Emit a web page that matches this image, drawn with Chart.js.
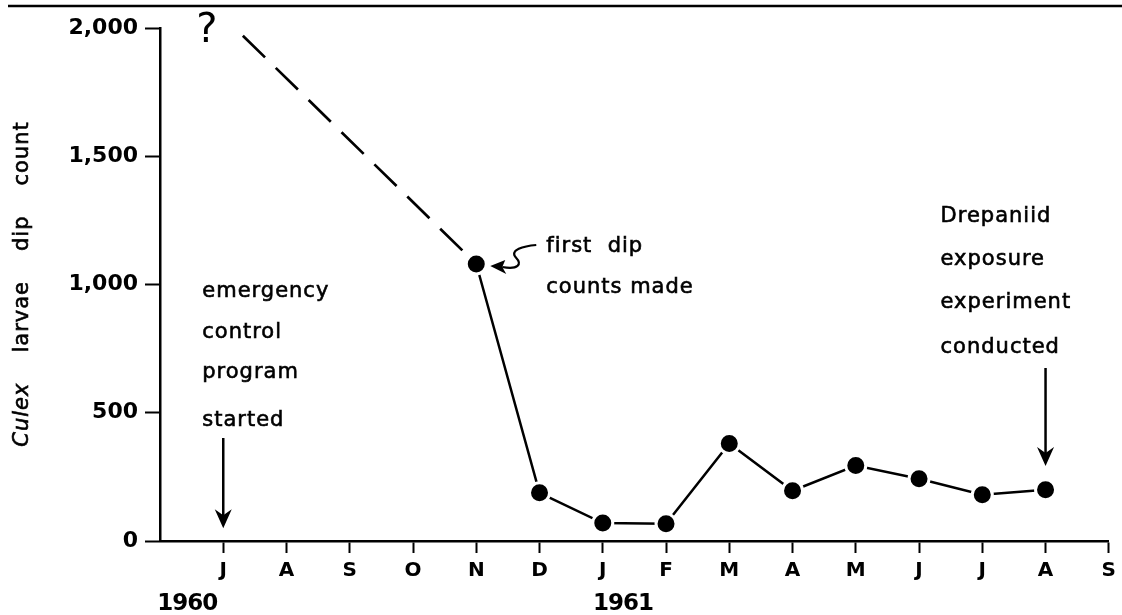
<!DOCTYPE html>
<html>
<head>
<meta charset="utf-8">
<script src="https://cdn.jsdelivr.net/npm/chart.js@4"></script>
<style>
  html, body { margin: 0; padding: 0; background: #fff; }
  #wrap { width: 1122px; height: 615px; position: relative; }
</style>
</head>
<body>
<div id="wrap"><canvas id="c" width="1122" height="615"></canvas></div>
<script>
// ---- data ----
const monthLabels = ['', 'J', 'A', 'S', 'O', 'N', 'D', 'J', 'F', 'M', 'A', 'M', 'J', 'J', 'A', 'S'];
const countX = [5, 6, 7, 8, 9, 10, 11, 12, 13, 14];
const countY = [1080, 188, 70, 67, 380, 196, 294, 243, 180, 200];
const guessX = [1.31, 5];
const guessY = [1970, 1080];
const yTicks = [0, 500, 1000, 1500, 2000];
const yearLabels = [{ x: 0.43, text: '1960' }, { x: 7.32, text: '1961' }];

const FONT = '"DejaVu Sans", sans-serif';

const annot = {
  id: 'annot',
  afterDraw(chart) {
    const ctx = chart.ctx;
    const xs = chart.scales.x, ys = chart.scales.y;
    const px = v => xs.getPixelForValue(v);
    const py = v => ys.getPixelForValue(v);
    ctx.save();
    ctx.fillStyle = '#000';
    ctx.strokeStyle = '#000';

    // top rule
    ctx.lineWidth = 2.5;
    ctx.beginPath(); ctx.moveTo(8, 6); ctx.lineTo(1122, 6); ctx.stroke();

    function heavyText(t, x, y) {
      ctx.fillText(t, x, y);
      ctx.lineWidth = 0.6;
      ctx.strokeText(t, x, y);
    }
    function lines(x, baselines, texts) {
      ctx.font = '21px ' + FONT;
      ctx.textAlign = 'left';
      ctx.textBaseline = 'alphabetic';
      ctx.letterSpacing = '1px';
      texts.forEach((t, i) => heavyText(t, x, baselines[i]));
      ctx.letterSpacing = '0px';
    }
    function arrowDown(x, y1, y2) {
      ctx.lineWidth = 2.5;
      ctx.beginPath(); ctx.moveTo(x, y1); ctx.lineTo(x, y2 - 12); ctx.stroke();
      ctx.beginPath();
      ctx.moveTo(x, y2); ctx.lineTo(x - 8.5, y2 - 19); ctx.lineTo(x, y2 - 13); ctx.lineTo(x + 8.5, y2 - 19);
      ctx.closePath(); ctx.fill();
    }

    // question mark
    ctx.font = '40px ' + FONT;
    ctx.textAlign = 'center';
    ctx.textBaseline = 'middle';
    ctx.fillText('?', px(0.74), py(1985));

    // emergency control program started
    const ex = px(1) - 21;
    lines(ex, [297, 338, 378, 426], ['emergency', 'control', 'program', 'started']);
    arrowDown(px(1), 438, py(50));

    // first dip counts made
    const nx = px(5), ny = py(1080);
    lines(nx + 70, [252, 293], ['first  dip', 'counts made']);
    ctx.lineWidth = 2.2;
    ctx.beginPath();
    ctx.moveTo(nx + 60, ny - 19);
    ctx.bezierCurveTo(nx + 48, ny - 18, nx + 32, ny - 14, nx + 40, ny - 6);
    ctx.bezierCurveTo(nx + 46, ny + 0, nx + 42, ny + 6, nx + 26, ny + 3);
    ctx.stroke();
    ctx.beginPath();
    ctx.moveTo(nx + 14, ny + 2); ctx.lineTo(nx + 29, ny - 4); ctx.lineTo(nx + 26, ny + 3); ctx.lineTo(nx + 30, ny + 10);
    ctx.closePath(); ctx.fill();

    // Drepaniid exposure experiment conducted
    const dx = px(14) - 105;
    lines(dx, [222, 265, 308, 353], ['Drepaniid', 'exposure', 'experiment', 'conducted']);
    arrowDown(px(14), 368, py(292));

    // year labels
    ctx.font = 'bold 23px ' + FONT;
    ctx.textAlign = 'center';
    ctx.textBaseline = 'middle';
    ctx.letterSpacing = '-1px';
    yearLabels.forEach(l => ctx.fillText(l.text, px(l.x), 604));
    ctx.letterSpacing = '0px';

    // y-axis title (rotated) with italic Culex
    ctx.translate(23, 284);
    ctx.rotate(-Math.PI / 2);
    ctx.textBaseline = 'middle';
    ctx.textAlign = 'left';
    ctx.letterSpacing = '1px';
    const words = [['italic 21px ' + FONT, 'Culex'], ['21px ' + FONT, 'larvae'], ['21px ' + FONT, 'dip'], ['21px ' + FONT, 'count']];
    const gap = 30;
    let total = 0;
    words.forEach(w => { ctx.font = w[0]; total += ctx.measureText(w[1]).width; });
    total += gap * (words.length - 1);
    let cx = -total / 2;
    words.forEach(w => { ctx.font = w[0]; heavyText(w[1], cx, 0); cx += ctx.measureText(w[1]).width + gap; });
    ctx.restore();
  }
};

new Chart(document.getElementById('c'), {
  type: 'line',
  data: {
    datasets: [
      {
        data: countX.map((x, i) => ({ x, y: countY[i] })),
        borderColor: '#000',
        borderWidth: 2.5,
        pointRadius: 10,
        pointBorderWidth: 3,
        pointBackgroundColor: '#000',
        pointBorderColor: '#fff',
        tension: 0,
        clip: false
      },
      {
        data: guessX.map((x, i) => ({ x, y: guessY[i] })),
        borderColor: '#000',
        borderWidth: 2.7,
        borderDash: [31, 15],
        pointRadius: 0,
        tension: 0,
        clip: false
      }
    ]
  },
  options: {
    responsive: false,
    animation: false,
    events: [],
    layout: { padding: { top: 28, right: 10, bottom: 0, left: 0 } },
    plugins: { legend: { display: false }, tooltip: { enabled: false } },
    scales: {
      x: {
        type: 'linear',
        min: 0,
        max: 15,
        afterFit: s => { s.height = 74; },
        afterBuildTicks: s => { s.ticks = monthLabels.map((_, i) => ({ value: i })); },
        border: { display: true, color: '#000', width: 2.5 },
        grid: {
          drawOnChartArea: false,
          tickLength: 12,
          tickWidth: 2,
          tickColor: c => (c.tick && c.tick.value === 0) ? 'rgba(0,0,0,0)' : '#000'
        },
        ticks: {
          color: '#000',
          font: { family: FONT, size: 20, weight: 'bold' },
          padding: 6,
          maxRotation: 0,
          autoSkip: false,
          callback: v => monthLabels[v]
        }
      },
      y: {
        min: 0,
        max: 2000,
        afterFit: s => { s.width = 160; },
        afterBuildTicks: s => { s.ticks = yTicks.map(v => ({ value: v })); },
        border: { display: true, color: '#000', width: 2.5 },
        grid: { drawOnChartArea: false, tickLength: 15, tickWidth: 2, tickColor: '#000' },
        ticks: {
          color: '#000',
          font: { family: FONT, size: 22, weight: 'bold' },
          padding: 7,
          callback: v => v.toLocaleString('en-US')
        }
      }
    }
  },
  plugins: [annot]
});
</script>
</body>
</html>
